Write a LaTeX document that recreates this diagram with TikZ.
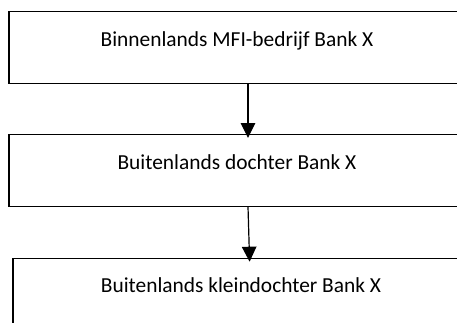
\documentclass[tikz,border=0pt]{standalone}
\usepackage{fontspec}
\setmainfont{Carlito}
\usetikzlibrary{arrows.meta}

\begin{document}
\begin{tikzpicture}[x=1pt, y=-1pt]
\tikzset{bankbox/.style={draw, line width=1.1pt, rectangle, inner sep=0pt,
  minimum width=456pt, text height=34.5pt, text depth=37pt,
  font=\fontsize{21.4}{24}\selectfont}}
\tikzset{pijl/.style={line width=1.2pt, -{Triangle[width=14.5pt, length=15pt]}, shorten >=-4pt}}
\useasboundingbox (0, 0) rectangle (457, 322);
\clip (0, 0) rectangle (457, 322);
\node[bankbox, anchor=north] (B1) at (237, 11) {Binnenlands MFI-bedrijf Bank X};
\node[bankbox, anchor=north] (B2) at (237, 134) {Buitenlands dochter Bank X};
\node[bankbox, anchor=north] (B3) at (241, 257.7) {Buitenlands kleindochter Bank X};
\draw[pijl] ([xshift=11pt]B1.south) -- ([xshift=11pt]B2.north);
\draw[pijl] ([xshift=11pt]B2.south) -- ([xshift=8.5pt]B3.north);
\end{tikzpicture}
\end{document}
